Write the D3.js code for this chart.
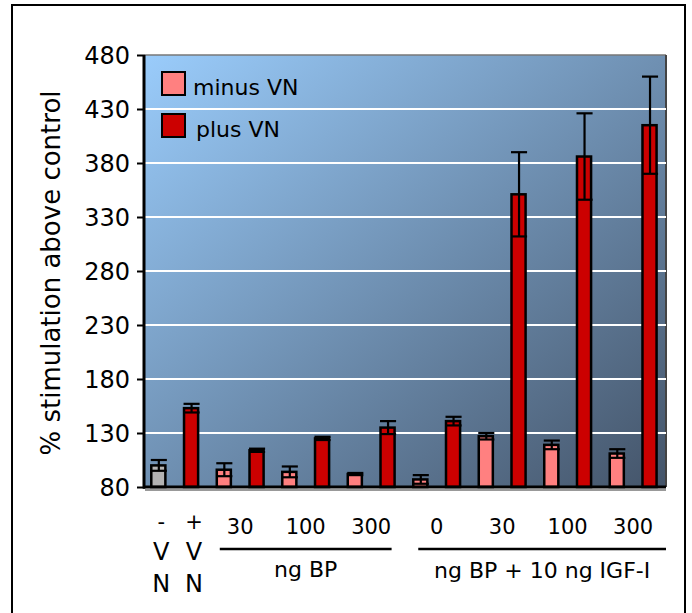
<!DOCTYPE html>
<html>
<head>
<meta charset="utf-8">
<script src="https://cdn.jsdelivr.net/npm/d3@7"></script>
<style>
  body { margin: 0; background: #fff; }
  svg text { font-family: "DejaVu Sans", sans-serif; fill: #000; }
</style>
</head>
<body>
<div id="chart"></div>
<script>
// bars, left to right
var barNames = ["ctrl-", "ctrl+", "bp30-", "bp30+", "bp100-", "bp100+", "bp300-", "bp300+",
                "igf0-", "igf0+", "igf30-", "igf30+", "igf100-", "igf100+", "igf300-", "igf300+"];
var barSeries = ["control", "plus", "minus", "plus", "minus", "plus", "minus", "plus",
                 "minus", "plus", "minus", "plus", "minus", "plus", "minus", "plus"];
var barValues = [100, 153, 96, 114, 94, 125, 92, 135, 87, 141, 127, 351, 119, 386, 111, 415];
var barErrors = [5, 4, 6, 1.5, 5, 1.5, 1, 6, 4, 4, 3, 39, 4, 40, 4, 45];

var yTicks = [80, 130, 180, 230, 280, 330, 380, 430, 480];
var legendLabels = ["minus VN", "plus VN"];
var vnSigns = ["-", "+"];
var bpDoses = ["30", "100", "300"];
var igfDoses = ["0", "30", "100", "300"];
var groupTitles = ["ng BP", "ng BP + 10 ng IGF-I"];
var yTitle = "% stimulation above control";

var colors = {control: "#b3b3b3", minus: "#ff8080", plus: "#cc0000"};

var W = 692, H = 613;
var margin = {top: 55, right: 26, bottom: 126, left: 145},
    width = W - margin.left - margin.right,
    height = H - margin.top - margin.bottom;

var x = d3.scaleBand().domain(barNames).range([0, width])
          .paddingInner(0.57).paddingOuter(0.24).align(0.4);
var y = d3.scaleLinear().domain([80, 480]).range([height, 0]);
var bw = x.bandwidth();

var svg = d3.select("#chart").append("svg").attr("width", W).attr("height", H);

// outer frame
svg.append("rect").attr("x", 12).attr("y", 5).attr("width", 673).attr("height", 640)
   .style("fill", "none").style("stroke", "#000").style("stroke-width", 2);

var defs = svg.append("defs");
var grad = defs.append("linearGradient").attr("id", "bg")
  .attr("x1", 0).attr("y1", 0).attr("x2", 1).attr("y2", 1);
grad.append("stop").attr("offset", "0%").attr("stop-color", "#9accfb");
grad.append("stop").attr("offset", "100%").attr("stop-color", "#445469");

var g = svg.append("g").attr("transform", "translate(" + margin.left + "," + margin.top + ")");

// plot background
g.append("rect").attr("width", width).attr("height", height).style("fill", "url(#bg)");
g.append("line").attr("x1", 0).attr("x2", width).attr("y1", 0).attr("y2", 0)
  .style("stroke", "#777").style("stroke-width", 1.5);
g.append("line").attr("x1", width).attr("x2", width).attr("y1", 0).attr("y2", height)
  .style("stroke", "#444").style("stroke-width", 2);

// grid
g.selectAll(".grid").data(yTicks.slice(1, -1)).enter().append("line")
  .attr("x1", 0).attr("x2", width)
  .attr("y1", function(d) { return y(d); }).attr("y2", function(d) { return y(d); })
  .style("stroke", "#fff").style("stroke-width", 2);

// bars
g.selectAll(".bar").data(barNames).enter().append("rect")
  .attr("x", function(d) { return x(d); })
  .attr("y", function(d, i) { return y(barValues[i]); })
  .attr("width", bw)
  .attr("height", function(d, i) { return height - y(barValues[i]); })
  .style("fill", function(d, i) { return colors[barSeries[i]]; })
  .style("stroke", "#000").style("stroke-width", 2.5);

// error bars
var capW = bw + 2;
barNames.forEach(function(d, i) {
  var cx = x(d) + bw / 2 + 0.5,
      lo = y(barValues[i] - barErrors[i]), hi = y(barValues[i] + barErrors[i]);
  var e = g.append("g").style("stroke", "#000").style("stroke-width", 2.2);
  e.append("line").attr("x1", cx).attr("x2", cx).attr("y1", lo).attr("y2", hi);
  e.append("line").attr("x1", cx - capW / 2).attr("x2", cx + capW / 2).attr("y1", hi).attr("y2", hi);
  e.append("line").attr("x1", cx - capW / 2).attr("x2", cx + capW / 2).attr("y1", lo).attr("y2", lo);
});

// y axis
var yAxis = d3.axisLeft(y).tickValues(yTicks).tickSize(8).tickPadding(7);
var ya = g.append("g").attr("class", "y axis").call(yAxis);
ya.select(".domain").remove();
ya.selectAll(".tick line").style("stroke", "#000").style("stroke-width", 2);
ya.selectAll(".tick text").style("font-size", "24px").attr("dy", "0.36em");
g.append("line").attr("x1", -1).attr("x2", -1).attr("y1", 0).attr("y2", height + 1.5)
  .style("stroke", "#000").style("stroke-width", 3);

// x axis line with shadow
g.append("line").attr("x1", 0).attr("x2", width).attr("y1", height + 3).attr("y2", height + 3)
  .style("stroke", "#999").style("stroke-width", 2);
g.append("line").attr("x1", -2).attr("x2", width).attr("y1", height).attr("y2", height)
  .style("stroke", "#000").style("stroke-width", 3);

// y title
svg.append("text").attr("transform", "translate(60," + (margin.top + height / 2 + 2) + ") rotate(-90)")
  .attr("text-anchor", "middle").style("font-size", "26px").text(yTitle);

// legend
var legend = g.append("g").attr("transform", "translate(17,17)");
legendLabels.forEach(function(t, i) {
  legend.append("rect").attr("x", 0).attr("y", i * 42).attr("width", 23).attr("height", 23)
    .style("fill", i == 0 ? colors.minus : colors.plus).style("stroke", "#000").style("stroke-width", 2);
  legend.append("text").attr("x", i == 0 ? 31 : 34).attr("y", i * 42 + 23)
    .style("font-size", "22px").text(t);
});

// category labels under the axis
var lab = svg.append("g").attr("transform", "translate(" + margin.left + ",0)")
  .attr("text-anchor", "middle");
function mid(a, b) { return (x(barNames[a]) + x(barNames[b]) + bw) / 2; }

vnSigns.forEach(function(s, i) {
  var cx = x(barNames[i]) + bw / 2 + 3;
  lab.append("text").attr("x", cx).attr("y", 529).style("font-size", "21px").text(s);
  lab.append("text").attr("x", cx).attr("y", 560).style("font-size", "24px").text("V");
  lab.append("text").attr("x", cx).attr("y", 592).style("font-size", "24px").text("N");
});
bpDoses.forEach(function(s, i) {
  lab.append("text").attr("x", mid(2 + 2 * i, 3 + 2 * i)).attr("y", 534)
    .style("font-size", "21px").text(s);
});
igfDoses.forEach(function(s, i) {
  lab.append("text").attr("x", mid(8 + 2 * i, 9 + 2 * i)).attr("y", 534)
    .style("font-size", "21px").text(s);
});

var l1a = x(barNames[2]) + 3, l1b = x(barNames[7]) + bw - 3,
    l2a = x(barNames[8]) + 5, l2b = width;
lab.append("line").attr("x1", l1a).attr("x2", l1b).attr("y1", 549).attr("y2", 549)
  .style("stroke", "#000").style("stroke-width", 2.5);
lab.append("line").attr("x1", l2a).attr("x2", l2b).attr("y1", 549).attr("y2", 549)
  .style("stroke", "#000").style("stroke-width", 2.5);
lab.append("text").attr("x", (l1a + l1b) / 2).attr("y", 577).style("font-size", "22px").text(groupTitles[0]);
lab.append("text").attr("x", (l2a + l2b) / 2).attr("y", 578).style("font-size", "22px").text(groupTitles[1]);
</script>
</body>
</html>
